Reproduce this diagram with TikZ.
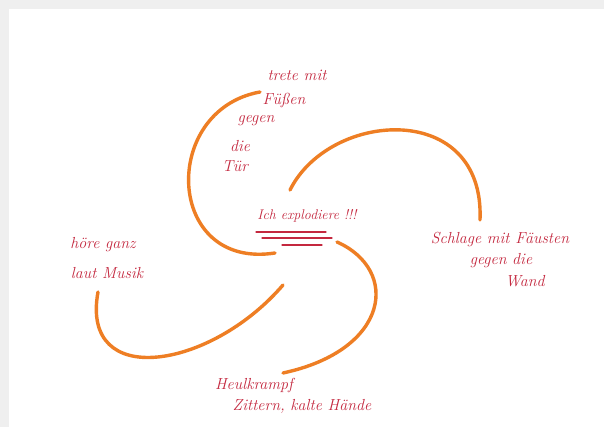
\documentclass[tikz,border=0pt]{standalone}
\usepackage{fontspec}
\usepackage{tikz}
\tikzset{arm/.style={line width=3.4pt,orangearm,line cap=round},
note/.style={text=rednote,font=\itshape\fontsize{16}{18}\selectfont,inner sep=0pt},
underl/.style={rednote,line width=1.2pt,line cap=round}}
\definecolor{orangearm}{HTML}{EE7E24}
\definecolor{rednote}{HTML}{C4283F}
\definecolor{paperedge}{HTML}{EFEFEF}

\begin{document}
\begin{tikzpicture}[x=1pt,y=-1pt]
\fill[paperedge] (0,0) rectangle (604,427);
\fill[white] (9,9) rectangle (604,427);
% four arms of the spiral
\draw[arm] (260,92) .. controls (160,110) and (165,270) .. (275,253);
\draw[arm] (290,190) .. controls (330,110) and (485,100) .. (480,220);
\draw[arm] (337,242) .. controls (400,270) and (390,350) .. (283,373);
\draw[arm] (283,285) .. controls (210,370) and (80,390) .. (98,292);
% centre
\node[note,font=\itshape\fontsize{14}{16}\selectfont] (boom) at (307,216) {Ich explodiere !!!};
\draw[underl] (256,232) -- (326,232);
\draw[underl] (262,238) -- (332,238);
\draw[underl] (282,245) -- (322,245);
% kick
\node[note] (kick1) at (297,75) {trete mit};
\node[note] (kick2) at (284,101) {Füßen};
\node[note] (kick3) at (256,121) {gegen};
\node[note] (kick4) at (240,146) {die};
\node[note] (kick5) at (235,166) {Tür};
% punch
\node[note] (punch1) at (500,240) {Schlage mit Fäusten};
\node[note] (punch2) at (501,261) {gegen die};
\node[note] (punch3) at (525,281) {Wand};
% music
\node[note] (music1) at (103,245) {höre ganz};
\node[note] (music2) at (107,273) {laut Musik};
% body
\node[note] (body1) at (254,385) {Heulkrampf};
\node[note] (body2) at (302,406) {Zittern, kalte Hände};
\end{tikzpicture}
\end{document}
